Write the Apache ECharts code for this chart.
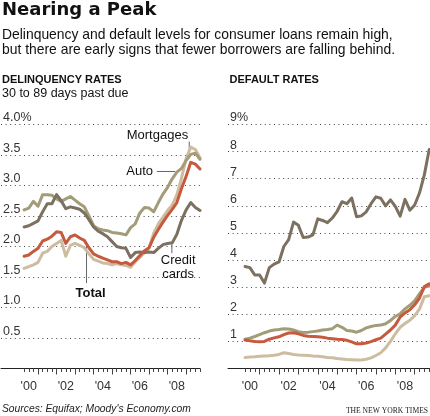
<!DOCTYPE html>
<html><head><meta charset="utf-8">
<script src="https://cdn.jsdelivr.net/npm/echarts@6/dist/echarts.min.js"></script>
<style>html,body{margin:0;padding:0;background:#fff}#c{width:430px;height:416px}</style>
</head><body><div id="c"></div>
<script>
// ---------- data ----------
const quarters = ['2000Q1','2000Q2','2000Q3','2000Q4','2001Q1','2001Q2','2001Q3','2001Q4',
  '2002Q1','2002Q2','2002Q3','2002Q4','2003Q1','2003Q2','2003Q3','2003Q4',
  '2004Q1','2004Q2','2004Q3','2004Q4','2005Q1','2005Q2','2005Q3','2005Q4',
  '2006Q1','2006Q2','2006Q3','2006Q4','2007Q1','2007Q2','2007Q3','2007Q4',
  '2008Q1','2008Q2','2008Q3','2008Q4','2009Q1','2009Q2','2009Q3'];

// Delinquency rates, 30 to 89 days past due (%)
const delinqMortgages = [1.64,1.67,1.70,1.74,1.89,1.92,2.00,2.05,2.10,1.84,2.02,2.05,2.02,1.98,1.88,1.79,1.76,1.73,1.72,1.70,1.72,1.70,1.69,1.66,1.75,1.82,1.90,1.98,2.22,2.37,2.48,2.59,2.68,2.85,3.12,3.44,3.63,3.59,3.45];
const delinqAuto = [2.60,2.63,2.74,2.66,2.85,2.85,2.84,2.78,2.74,2.78,2.82,2.76,2.70,2.65,2.50,2.34,2.29,2.27,2.26,2.23,2.22,2.21,2.19,2.31,2.37,2.55,2.64,2.63,2.57,2.72,2.86,2.97,3.11,3.22,3.28,3.41,3.51,3.53,3.43];
const delinqCredit = [2.32,2.34,2.38,2.42,2.57,2.70,2.70,2.85,2.75,2.62,2.65,2.63,2.61,2.55,2.44,2.32,2.25,2.21,2.16,2.08,2.00,1.98,1.97,1.82,1.90,1.91,1.90,1.91,1.90,1.97,2.03,2.05,2.06,2.20,2.43,2.60,2.72,2.64,2.59];
const delinqTotal = [1.84,1.86,1.92,1.97,2.09,2.12,2.17,2.24,2.23,2.05,2.16,2.19,2.14,2.10,1.98,1.88,1.84,1.81,1.78,1.75,1.75,1.72,1.74,1.70,1.77,1.85,1.93,1.98,2.15,2.28,2.40,2.51,2.61,2.72,2.95,3.15,3.38,3.35,3.27];

// Default rates (%)
const defaultCredit = [3.76,3.72,3.45,3.45,3.15,3.72,3.85,3.93,4.50,4.75,5.40,5.28,4.83,4.85,4.93,5.52,5.46,5.38,5.55,5.80,6.15,6.08,6.29,5.60,5.63,5.78,6.08,6.33,6.28,6.00,6.22,5.98,5.62,6.24,5.84,6.03,6.48,7.15,8.08];
const defaultAuto = [1.08,1.12,1.18,1.25,1.32,1.38,1.42,1.44,1.47,1.46,1.42,1.36,1.33,1.34,1.36,1.38,1.42,1.44,1.47,1.60,1.52,1.40,1.38,1.34,1.40,1.50,1.55,1.59,1.60,1.65,1.77,1.92,2.02,2.20,2.33,2.50,2.75,3.00,3.04];
const defaultTotal = [1.05,1.02,1.00,0.99,1.00,1.08,1.13,1.17,1.25,1.31,1.32,1.28,1.22,1.19,1.18,1.17,1.15,1.12,1.10,1.08,1.07,1.04,0.98,0.91,0.91,0.94,0.99,1.06,1.12,1.27,1.42,1.60,1.90,2.05,2.17,2.35,2.60,3.02,3.12];
const defaultMortgages = [0.41,0.42,0.43,0.45,0.46,0.47,0.49,0.52,0.58,0.55,0.52,0.50,0.49,0.48,0.46,0.45,0.43,0.41,0.40,0.37,0.35,0.33,0.32,0.31,0.31,0.34,0.39,0.48,0.58,0.76,1.00,1.28,1.52,1.66,1.78,1.95,2.20,2.65,2.68];

// tick labels
const xTickLabels = ["'00", "'02", "'04", "'06", "'08"];
const xLabelYears = [2000, 2002, 2004, 2006, 2008];
const leftYLabels = ['', '0.5', '1.0', '1.5', '2.0', '2.5', '3.0', '3.5', '4.0%'];
const rightYLabels = ['', '1', '2', '3', '4', '5', '6', '7', '8', '9%'];

// annotations (data coordinates of the left panel)
const notes = [
  {text: 'Mortgages', t: 2009.11, v: 3.82, align: 'right', bold: false},
  {text: 'Auto', t: 2007.21, v: 3.23, align: 'right', bold: false},
  {text: 'Credit\ncards', t: 2008.57, v: 1.66, align: 'center', bold: false},
  {text: 'Total', t: 2003.84, v: 1.23, align: 'center', bold: true}
];
const leaders = [
  [[2009.17, 3.72], [2009.17, 3.60]],
  [[2007.42, 3.23], [2008.41, 3.23]],
  [[2008.23, 2.06], [2008.23, 1.89]],
  [[2003.62, 2.08], [2003.62, 1.40]]
];

// ---------- build ----------
const C = {mort: '#cdbc9f', auto: '#a39c78', credit: '#7c7060', total: '#c65a3e'};
const FONT = '"Liberation Sans", Arial, Helvetica, sans-serif';

const xs = quarters.map(q => +q.slice(0, 4) + (+q.slice(5)) * 0.25);
const pairs = arr => arr.map((v, i) => [xs[i], v]);

const majorTicks = [], minorTicks = [];
for (let y = 2000; y <= 2009; y++) {
  if (y > 2000) majorTicks.push(y);
  minorTicks.push(y + 0.25, y + 0.5, y + 0.75);
}
const labelPos = xLabelYears.map(y => y + 0.5);

function xAxesFor(gridIndex, min, max) {
  return [{
    type: 'value', gridIndex, min, max, position: 'bottom',
    axisLine: {show: true, onZero: false, lineStyle: {color: '#222', width: 1}},
    axisTick: {show: true, customValues: majorTicks, length: 6, lineStyle: {color: '#444'}},
    axisLabel: {show: true, customValues: labelPos, margin: 12, color: '#333', fontSize: 12.5, fontFamily: FONT,
      formatter: v => xTickLabels[xLabelYears.indexOf(Math.round(v - 0.5))] || ''},
    splitLine: {show: false}
  }, {
    type: 'value', gridIndex, min, max, position: 'bottom',
    axisLine: {show: false, onZero: false},
    axisTick: {show: true, customValues: minorTicks, length: 3.5, lineStyle: {color: '#444'}},
    axisLabel: {show: false}, splitLine: {show: false}
  }];
}
function yAxisFor(gridIndex, max, interval, labels) {
  return {
    type: 'value', gridIndex, min: 0, max, interval, position: 'left',
    axisLine: {show: false}, axisTick: {show: false},
    axisLabel: {inside: true, margin: 2, color: '#333', fontSize: 12.5, fontFamily: FONT,
      verticalAlign: 'bottom', padding: [0, 0, 0, 0],
      formatter: v => labels[Math.round(v / interval)]},
    splitLine: {show: true, lineStyle: {color: '#444', width: 1, type: [1, 3.6]}}
  };
}
function lineSeries(x, y, data, color, z) {
  return {type: 'line', xAxisIndex: x, yAxisIndex: y, data: pairs(data), symbol: 'none', showSymbol: false,
    lineStyle: {width: 3, color, join: 'round', cap: 'round'}, z, silent: true, animation: false};
}

const chart = echarts.init(document.getElementById('c'), null, {renderer: 'canvas'});
const txt = (text, x, y, size, opts = {}) => ({
  type: 'text', silent: true, z: 100,
  style: Object.assign({text, x, y, fill: '#111', fontSize: size, fontFamily: FONT,
    align: 'left', verticalAlign: 'middle', textAlign: 'left', textVerticalAlign: 'middle'}, opts)
});

chart.setOption({
  animation: false,
  grid: [
    {left: 0, top: 124.5, width: 200, height: 244},
    {left: 228, top: 124.5, width: 202, height: 244}
  ],
  xAxis: [...xAxesFor(0, 1999, 2009.75), ...xAxesFor(1, 1999.37, 2009.79)],
  yAxis: [yAxisFor(0, 4, 0.5, leftYLabels), yAxisFor(1, 9, 1, rightYLabels)],
  series: [
    lineSeries(0, 0, delinqMortgages, C.mort, 3),
    lineSeries(0, 0, delinqAuto, C.auto, 4),
    lineSeries(0, 0, delinqCredit, C.credit, 5),
    lineSeries(0, 0, delinqTotal, C.total, 6),
    lineSeries(2, 1, defaultMortgages, C.mort, 3),
    lineSeries(2, 1, defaultAuto, C.auto, 4),
    lineSeries(2, 1, defaultCredit, C.credit, 5),
    lineSeries(2, 1, defaultTotal, C.total, 6)
  ]
});

const px = (t, v) => chart.convertToPixel({xAxisIndex: 0, yAxisIndex: 0}, [t, v]);
const graphics = [
  txt('Nearing a Peak', 2, 10.5, 18, {fontFamily: '"DejaVu Sans", sans-serif', fontWeight: 'bold'}),
  txt('Delinquency and default levels for consumer loans remain high,', 2, 35, 13.9),
  txt('but there are early signs that fewer borrowers are falling behind.', 2, 50, 13.9),
  txt('DELINQUENCY RATES', 2, 80, 11, {fontWeight: 'bold'}),
  txt('30 to 89 days past due', 2, 94, 12.5),
  txt('DEFAULT RATES', 229.5, 80, 11, {fontWeight: 'bold'}),
  txt("Sources: Equifax; Moody's Economy.com", 2, 409, 10.3, {fontStyle: 'italic', fill: '#222'}),
  txt('THE NEW YORK TIMES', 428, 410.5, 7.6, {fontFamily: '"Liberation Serif", "Times New Roman", serif', align: 'right', textAlign: 'right', fill: '#222'})
];
leaders.forEach(seg => {
  const a = px(seg[0][0], seg[0][1]), b = px(seg[1][0], seg[1][1]);
  graphics.push({type: 'line', silent: true, z: 1, shape: {x1: a[0], y1: a[1], x2: b[0], y2: b[1]},
    style: {stroke: '#666', lineWidth: 1}});
});
notes.forEach(n => {
  const p = px(n.t, n.v);
  graphics.push(txt(n.text, p[0], p[1], 13, {align: n.align, textAlign: n.align, lineHeight: 14,
    fontWeight: n.bold ? 'bold' : 'normal'}));
});
chart.setOption({graphic: graphics});
</script></body></html>
